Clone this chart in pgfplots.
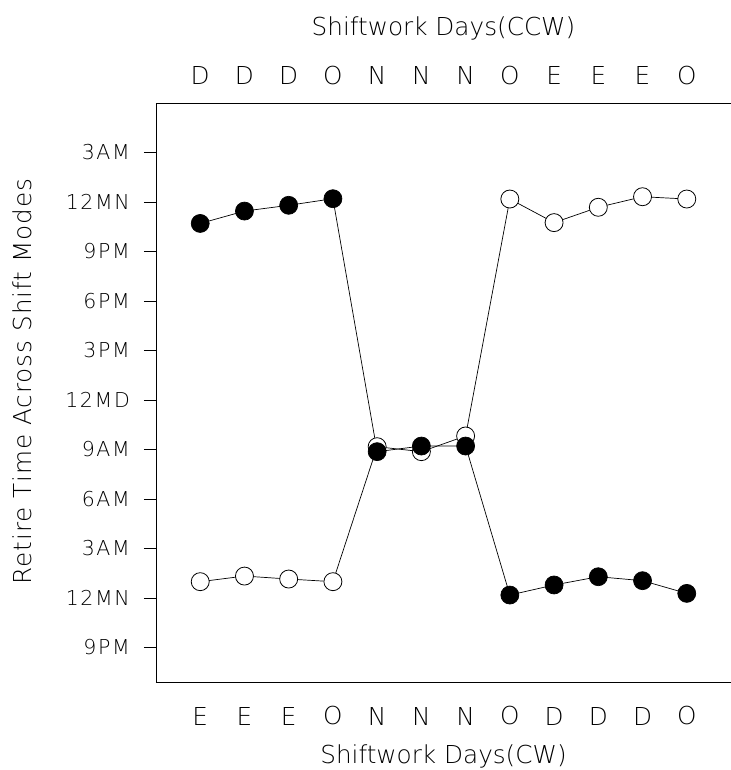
\documentclass[border=0pt]{standalone}
\usepackage{fontspec}
\IfFontExistsTF{DejaVu Sans ExtraLight}{%
  \setmainfont{DejaVu Sans ExtraLight}%
  \newfontfamily\tickfont[LetterSpace=8]{DejaVu Sans ExtraLight}%
  \newfontfamily\labfont[LetterSpace=4]{DejaVu Sans ExtraLight}%
}{%
  \setmainfont{DejaVu Sans}%
  \newfontfamily\tickfont[LetterSpace=8]{DejaVu Sans}%
  \newfontfamily\labfont[LetterSpace=4]{DejaVu Sans}%
}
\usepackage{pgfplots}
\pgfplotsset{compat=1.18}

\pgfplotstableread{
x cw ccw
0  22.70 0.99
1  23.45 1.33
2  23.80 1.15
3  24.20 0.99
4  8.87  9.17
5  9.21  8.87
6  9.21  9.82
7  0.18  24.18
8  0.79  22.75
9  1.29  23.68
10 1.05  24.32
11 0.28  24.18
}\datatable

\begin{document}
\begin{tikzpicture}
\path[use as bounding box] (-156bp,-88bp) rectangle (575bp,682bp);
\begin{axis}[
  at={(0,0)}, anchor=south west,
  width=575bp, height=579bp, scale only axis,
  xmin=-1, xmax=12, ymin=-5.09, ymax=30,
  axis x line=box, axis y line=left,
  axis line style={-, line width=0.8bp},
  tick align=outside, major tick length=12bp,
  xtick={0,...,11},
  xticklabels={E,E,E,O,N,N,N,O,D,D,D,O},
  xtick style={draw=none},
  ytick={-3,0,3,6,9,12,15,18,21,24,27},
  yticklabels={9PM,12MN,3AM,6AM,9AM,12MD,3PM,6PM,9PM,12MN,3AM},
  ytick style={line width=0.8bp, black},
  yticklabel style={font=\tickfont\fontsize{20.5bp}{24bp}\selectfont, anchor=east, inner sep=0pt, xshift=-14bp},
  xticklabel style={font=\fontsize{24.7bp}{28bp}\selectfont, anchor=center, yshift=-22bp},
  xlabel={Shiftwork Days(CW)},
  xlabel style={font=\fontsize{24.7bp}{28bp}\selectfont, at={(axis description cs:0.5,-0.1416)}, anchor=base},
  ylabel={Retire Time Across Shift Modes},
  ylabel style={font=\labfont\fontsize{24.7bp}{28bp}\selectfont, at={(axis description cs:-0.2322,0.519)}, anchor=center, rotate=0},
  clip=false,
]
\addplot[black, line width=0.7bp, mark=*, mark size=9bp, mark options={fill=white, draw=black, line width=0.8bp}] table[x=x, y=ccw] {\datatable};
\addplot[black, line width=0.7bp, mark=*, mark size=9bp, mark options={fill=black, draw=black}] table[x=x, y=cw] {\datatable};
\end{axis}
\begin{axis}[
  at={(0,0)}, anchor=south west,
  width=575bp, height=579bp, scale only axis,
  xmin=-1, xmax=12, ymin=-5.09, ymax=30,
  axis x line*=top, axis y line=none,
  axis line style={draw=none},
  xtick={0,...,11},
  xticklabels={D,D,D,O,N,N,N,O,E,E,E,O},
  xtick style={draw=none},
  tick align=outside, major tick length=12bp,
  xticklabel style={font=\fontsize{24.7bp}{28bp}\selectfont, anchor=center, yshift=15bp},
  xlabel={Shiftwork Days(CCW)},
  xlabel style={font=\fontsize{24.7bp}{28bp}\selectfont, at={(axis description cs:0.5,1.1174)}, anchor=base},
]
\addplot[draw=none] coordinates {(0,0)};
\end{axis}
\end{tikzpicture}
\end{document}
